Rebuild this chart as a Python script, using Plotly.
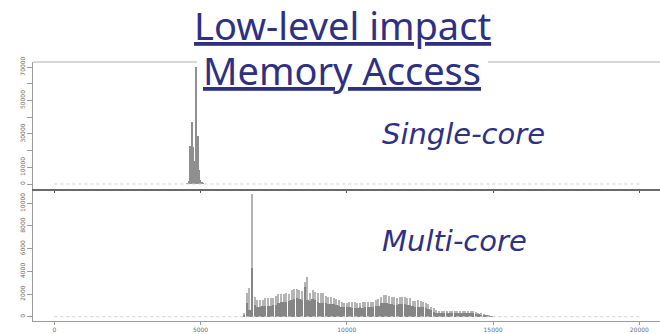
import plotly.graph_objects as go

# ---------------- data ----------------
hist_range = [0, 20000]

# single-core histogram (bin centres, counts)
single_bins = [4550, 4600, 4650, 4700, 4750, 4800, 4850, 4900, 4950, 5000, 5050, 5100]
single_counts = [600, 1500, 23000, 37300, 22100, 14000, 70200, 29000, 8500, 2400, 1200, 400]

# multi-core histogram: bins of width 90 starting at 6500
multi_bin_start = 6500
multi_bin_width = 90
multi_upper = [300, 2060, 2500, 10800, 1770, 1470, 1440, 1470, 1620, 1620,
               1690, 1690, 1800, 1970, 1970, 1970, 2060, 2000, 2350, 2470,
               2470, 2350, 2300, 3090, 3530, 2060, 2350, 2210, 2120, 2060,
               2060, 1830, 1770, 1770, 1620, 1530, 1470, 1320, 1180, 1240,
               1320, 1320, 1320, 1240, 1240, 1300, 1320, 1320, 1320, 1320,
               1470, 1530, 1710, 1910, 1910, 1830, 1770, 1700, 1620, 1770,
               1710, 1710, 1620, 1650, 1410, 1410, 1470, 1410, 1320, 1240,
               1090, 880, 740, 590, 530, 530, 520, 530, 510, 520,
               500, 520, 510, 500, 500, 510, 500, 500, 440, 350,
               290, 200, 150, 90, 60]
multi_lower = [150, 1180, 600, 4270, 1030, 880, 880, 900, 910, 940,
               970, 1030, 1060, 1180, 1260, 1290, 1320, 1380, 1470, 1560,
               1620, 1530, 1470, 2650, 1470, 1410, 1530, 1470, 1320, 1240,
               1180, 1180, 1150, 1120, 1090, 1030, 940, 880, 820, 820,
               820, 790, 790, 790, 820, 800, 880, 880, 880, 880,
               940, 970, 1180, 1240, 1180, 1120, 1090, 1060, 1030, 1090,
               1090, 1090, 1030, 1060, 940, 880, 880, 880, 820, 740,
               680, 590, 440, 350, 350, 350, 330, 340, 320, 330,
               310, 320, 300, 300, 290, 300, 290, 290, 260, 200,
               170, 120, 90, 60, 30]
multi_bins = [multi_bin_start + multi_bin_width * i for i in range(len(multi_upper))]

x_ticks = [0, 5000, 10000, 15000, 20000]
x_ticktext = ["0", "5000", "10000", "15000", "20000"]
single_yticks = [0, 10000, 20000, 30000, 40000, 50000, 60000, 70000]
single_yticktext = ["0", "10000", "", "30000", "", "50000", "", "70000"]
multi_yticks = [0, 2000, 4000, 6000, 8000, 10000]
multi_yticktext = ["0", "2000", "4000", "6000", "8000", "10000"]

title_lines = ["Low-level impact", "Memory Access"]
panel_labels = ["Single-core", "Multi-core"]

# ---------------- figure ----------------
W, H = 660, 334
NAVY = "#2E3084"
AX = "#9a9a9a"

fig = go.Figure()

# dotted empty-bin baselines
fig.add_trace(go.Scatter(x=hist_range, y=[0, 0], mode="lines",
                         line=dict(color="#cfcfcf", width=1, dash="dot"),
                         xaxis="x2", yaxis="y", hoverinfo="skip"))
fig.add_trace(go.Scatter(x=hist_range, y=[0, 0], mode="lines",
                         line=dict(color="#cfcfcf", width=1, dash="dot"),
                         xaxis="x", yaxis="y2", hoverinfo="skip"))

fig.add_trace(go.Bar(x=single_bins, y=single_counts, width=30,
                     marker=dict(color="#8f8f8f", line=dict(width=0)),
                     xaxis="x2", yaxis="y"))
fig.add_trace(go.Bar(x=multi_bins, y=multi_upper, width=50,
                     marker=dict(color="#b4b4b4", line=dict(width=0)),
                     xaxis="x", yaxis="y2"))
fig.add_trace(go.Bar(x=multi_bins, y=multi_lower, width=65,
                     marker=dict(color="#858585", line=dict(width=0)),
                     xaxis="x", yaxis="y2"))

x0 = 33 / W
top_lo, top_hi = 1 - 189 / H, 1 - 62 / H
bot_lo, bot_hi = 1 - 321 / H, 1 - 189 / H
xr = [-728, 20708]

tickfont = dict(family="DejaVu Sans", size=6, color="#6a6a6a")

fig.update_layout(
    width=W, height=H,
    margin=dict(l=0, r=0, t=0, b=0, autoexpand=False),
    paper_bgcolor="white", plot_bgcolor="white",
    showlegend=False, barmode="overlay", bargap=0,
    xaxis=dict(domain=[x0, 1], range=xr, anchor="y2", automargin=False,
               tickvals=x_ticks, ticktext=x_ticktext,
               ticks="outside", ticklen=3, tickcolor=AX, tickwidth=1,
               showline=True, linecolor=AX, linewidth=1,
               showgrid=False, zeroline=False, tickfont=tickfont),
    xaxis2=dict(domain=[x0, 1], range=xr, anchor="y", matches="x", automargin=False,
                tickvals=x_ticks, showticklabels=False,
                ticks="outside", ticklen=2, tickcolor="#555", tickwidth=1,
                showline=True, linecolor="#6a6a6a", linewidth=1.5,
                showgrid=False, zeroline=False),
    yaxis=dict(domain=[top_lo, top_hi], range=[-2990, 72990], anchor="x2", automargin=False,
               tickvals=single_yticks, ticktext=single_yticktext,
               ticks="outside", ticklen=5, tickcolor=AX, tickangle=-90,
               showline=True, linecolor=AX, linewidth=1,
               showgrid=False, zeroline=False, tickfont=tickfont),
    yaxis2=dict(domain=[bot_lo, bot_hi], range=[-380, 11260], anchor="x", automargin=False,
                tickvals=multi_yticks, ticktext=multi_yticktext,
                ticks="outside", ticklen=5, tickcolor=AX, tickangle=-90,
                showline=True, linecolor=AX, linewidth=1,
                showgrid=False, zeroline=False, tickfont=tickfont),
)

# top frame line (interrupted by the title)
for a, b in [(x0, 197 / W), (488 / W, 1)]:
    fig.add_shape(type="line", xref="paper", yref="paper",
                  x0=a, x1=b, y0=top_hi, y1=top_hi,
                  line=dict(color="#b0b0b0", width=1))

title_font = dict(family="Noto Sans", size=38, color=NAVY)
fig.add_annotation(text="<u>" + title_lines[0] + "</u>", xref="paper", yref="paper",
                   x=342 / W, y=1 - 25 / H, xanchor="center", yanchor="middle",
                   showarrow=False, font=title_font, borderpad=0)
fig.add_annotation(text="<u>" + title_lines[1] + "</u>", xref="paper", yref="paper",
                   x=342 / W, y=1 - 70 / H, xanchor="center", yanchor="middle",
                   showarrow=False, font=title_font, borderpad=0)

label_font = dict(family="DejaVu Sans", size=29, color=NAVY)
fig.add_annotation(text="<i>" + panel_labels[0] + "</i>", xref="paper", yref="paper",
                   x=380 / W, y=1 - 134 / H, xanchor="left", yanchor="middle",
                   showarrow=False, font=label_font)
fig.add_annotation(text="<i>" + panel_labels[1] + "</i>", xref="paper", yref="paper",
                   x=380 / W, y=1 - 241 / H, xanchor="left", yanchor="middle",
                   showarrow=False, font=label_font)

fig.write_html("out.html", config={"displayModeBar": False},
               post_script="document.body.style.margin='0';document.body.style.overflow='hidden';")
